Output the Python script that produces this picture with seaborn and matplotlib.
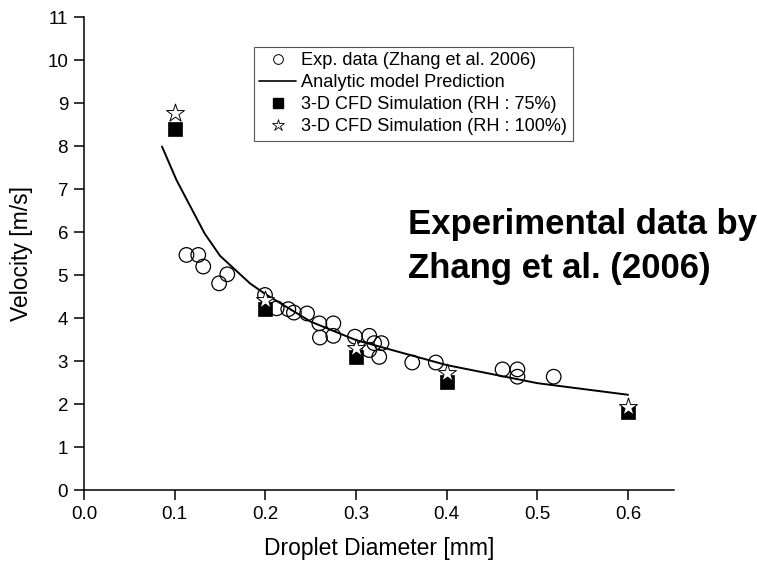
import matplotlib
matplotlib.use("Agg")
import matplotlib.pyplot as plt
import seaborn as sns
import pandas as pd
from matplotlib.lines import Line2D

# ---- data ----
exp_d = [0.113, 0.126, 0.1315, 0.149, 0.158, 0.1996, 0.2125, 0.2253, 0.2315, 0.246,
         0.2595, 0.275, 0.2602, 0.275, 0.2988, 0.3146, 0.320, 0.328, 0.3146, 0.3256,
         0.362, 0.388, 0.4616, 0.478, 0.478, 0.518]
exp_v = [5.47, 5.47, 5.20, 4.81, 5.02, 4.54, 4.23, 4.21, 4.13, 4.11,
         3.88, 3.88, 3.55, 3.59, 3.57, 3.59, 3.42, 3.42, 3.26, 3.10,
         2.97, 2.97, 2.81, 2.81, 2.64, 2.64]

model_d = [0.086, 0.102, 0.133, 0.15, 0.183, 0.2, 0.25, 0.3, 0.4, 0.5, 0.6]
model_v = [7.99, 7.21, 5.97, 5.45, 4.81, 4.56, 3.92, 3.49, 2.91, 2.49, 2.22]

cfd_d = [0.1, 0.2, 0.3, 0.4, 0.6]
cfd75_v = [8.39, 4.21, 3.10, 2.52, 1.82]
cfd100_v = [8.76, 4.42, 3.31, 2.72, 1.93]

labels = ["Exp. data (Zhang et al. 2006)", "Analytic model Prediction",
          "3-D CFD Simulation (RH : 75%)", "3-D CFD Simulation (RH : 100%)"]
x_ticks = [0.0, 0.1, 0.2, 0.3, 0.4, 0.5, 0.6]
y_ticks = list(range(0, 12))

sns.set_style("ticks")
plt.rcParams["font.family"] = ["Liberation Sans", "DejaVu Sans"]
plt.rcParams["text.color"] = "black"
plt.rcParams["axes.labelcolor"] = "black"
plt.rcParams["xtick.color"] = "black"
plt.rcParams["ytick.color"] = "black"

fig = plt.figure(figsize=(7.57, 5.62), dpi=100)
ax = fig.add_axes([84/757, 1 - 490.3/562, (674.3 - 84)/757, (490.3 - 17)/562])

exp_df = pd.DataFrame({"d": exp_d, "v": exp_v})
model_df = pd.DataFrame({"d": model_d, "v": model_v})
cfd_df = pd.DataFrame({"d": cfd_d, "v75": cfd75_v, "v100": cfd100_v})

sns.scatterplot(data=exp_df, x="d", y="v", ax=ax, marker="o", s=110,
                facecolor="none", edgecolor="black", linewidth=0.9, zorder=3)
sns.lineplot(data=model_df, x="d", y="v", ax=ax, color="black", linewidth=1.4,
             zorder=4, sort=False)
sns.scatterplot(data=cfd_df, x="d", y="v75", ax=ax, marker="s", s=95,
                color="black", edgecolor="black", linewidth=0.5, zorder=5)
sns.scatterplot(data=cfd_df, x="d", y="v100", ax=ax, marker="*", s=185,
                facecolor="white", edgecolor="black", linewidth=0.7, zorder=6)

ax.set_xlim(0, 0.651)
ax.set_ylim(0, 11)
ax.set_xticks(x_ticks)
ax.set_xticklabels([f"{t:.1f}" for t in x_ticks])
ax.set_yticks(y_ticks)
ax.set_yticklabels([str(t) for t in y_ticks])
ax.tick_params(axis="both", direction="out", length=7, width=1.1,
               labelsize=13.5, colors="black", pad=4.5)
for side in ["left", "bottom"]:
    ax.spines[side].set_linewidth(1.1)
    ax.spines[side].set_color("black")
sns.despine(ax=ax)

ax.set_xlabel("Droplet Diameter [mm]", fontsize=16.5, labelpad=10, color="black")
ax.set_ylabel("Velocity [m/s]", fontsize=16.5, labelpad=10, color="black")

handles = [
    Line2D([], [], marker="o", linestyle="none", markersize=7, markerfacecolor="none",
           markeredgecolor="black", markeredgewidth=0.7),
    Line2D([], [], color="black", linewidth=1.2),
    Line2D([], [], marker="s", linestyle="none", markersize=6.5, color="black"),
    Line2D([], [], marker="*", linestyle="none", markersize=9, markerfacecolor="white",
           markeredgecolor="black", markeredgewidth=0.6),
]
leg = fig.legend(handles, labels, loc="upper left",
                 bbox_to_anchor=(254/757, 1 - 47/562), bbox_transform=fig.transFigure,
                 fontsize=13.1, frameon=True, fancybox=False, framealpha=1,
                 edgecolor="#555555", borderpad=0.3, labelspacing=0.27,
                 handlelength=2.0, handletextpad=0.3, borderaxespad=0)
leg.get_frame().set_linewidth(0.8)
for t in leg.get_texts():
    t.set_color("black")

fig.text(408/757, 1 - 234/562, "Experimental data by", fontsize=25,
         fontweight="bold", ha="left", va="baseline", color="black")
fig.text(408/757, 1 - 278/562, "Zhang et al. (2006)", fontsize=25,
         fontweight="bold", ha="left", va="baseline", color="black")

fig.savefig("out.png", dpi=100)
